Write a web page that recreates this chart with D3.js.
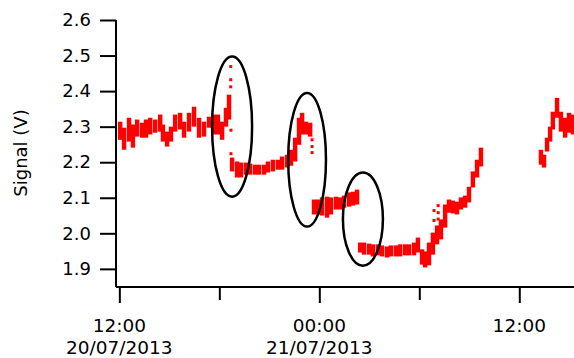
<!DOCTYPE html>
<html><head><meta charset="utf-8">
<script src="https://cdn.jsdelivr.net/npm/d3@7"></script>
<style>body{margin:0;background:#fff}svg{display:block}</style>
</head><body><svg id="c" width="574" height="358"></svg>
<script>
// minutes after 20/07/2013 12:00
const minutes = [3,17,35,49,64,82,96,111,129,147,157,172,186,201,219,233,251,269,287,305,323,341,355,370,384,395,
  406,424,438,456,471,489,503,521,535,553,571,586,604,618,633,647,658,672,687,
  701,715,730,748,762,780,795,809,827,841,856,
  867,881,899,913,931,946,964,978,996,1011,1029,1043,1061,1075,1090,1101,1115,1129,1144,1158,1173,1187,1201,1216,1230,1245,1259,1273,1288,1302,
  1518,1529,1540,1551,1561,1576,1590,1605,1619,1633,1648];
const hiValues = [2.314,2.297,2.325,2.306,2.320,2.311,2.320,2.325,2.320,2.334,2.306,2.286,2.300,2.334,2.339,2.314,2.339,2.356,2.325,2.314,2.328,2.334,2.334,2.314,2.353,2.390,
  2.213,2.202,2.199,2.199,2.196,2.193,2.193,2.193,2.202,2.207,2.207,2.216,2.221,2.235,2.269,2.325,2.339,2.314,2.311,
  2.095,2.095,2.101,2.103,2.101,2.103,2.101,2.106,2.115,2.117,2.123,
  1.974,1.974,1.971,1.969,1.969,1.966,1.963,1.966,1.966,1.969,1.969,1.969,1.974,1.988,1.955,1.949,1.974,2.002,2.022,2.039,2.081,2.095,2.092,2.089,2.101,2.106,2.131,2.174,2.207,2.241,
  2.235,2.221,2.269,2.300,2.342,2.381,2.342,2.325,2.339,2.334,2.328];
const loValues = [2.263,2.235,2.258,2.241,2.272,2.269,2.269,2.278,2.283,2.286,2.258,2.244,2.258,2.286,2.292,2.269,2.286,2.300,2.269,2.272,2.297,2.278,2.278,2.263,2.300,2.320,
  2.174,2.157,2.157,2.165,2.165,2.165,2.165,2.165,2.171,2.174,2.179,2.179,2.185,2.190,2.202,2.249,2.278,2.278,2.272,
  2.053,2.053,2.050,2.044,2.053,2.067,2.067,2.072,2.075,2.078,2.081,
  1.946,1.940,1.940,1.935,1.938,1.935,1.932,1.935,1.935,1.935,1.938,1.938,1.938,1.946,1.912,1.904,1.910,1.940,1.969,1.983,2.016,2.058,2.056,2.053,2.067,2.072,2.087,2.129,2.157,2.188,
  2.193,2.185,2.230,2.258,2.292,2.325,2.286,2.269,2.283,2.278,2.283];
const outlierMinutes = [401,401,401,402,402,694,694,694,1133,1148,1148,1133,1148];
const outlierValues = [2.469,2.432,2.412,2.290,2.224,2.263,2.244,2.227,2.064,2.078,2.058,2.036,2.040];
const yTicks = [1.9,2.0,2.1,2.2,2.3,2.4,2.5,2.6];
const majorTickMinutes = [0,720,1440];
const minorTickMinutes = [360,1080];
const tickTimeLabels = ["12:00","00:00","12:00"];
const tickDateLabels = ["20/07/2013","21/07/2013",""];
const yLabel = "Signal (V)";
// annotation ellipses: centre (minutes, value), half-width (minutes), half-height (value)
const ellipseMinutes = [406,676,877];
const ellipseValues = [2.300,2.207,2.040];
const ellipseHalfMinutes = [72,68,72];
const ellipseHalfValues = [0.197,0.188,0.131];

const start = new Date(2013,6,20,12,0);
const T = m => new Date(start.getTime() + m*60000);
const svg = d3.select("#c");
const x = d3.scaleTime().domain([T(-12), T(1637)]).range([116, 574]);
const y = d3.scaleLinear().domain([1.849, 2.6]).range([287, 20]);
const font = "DejaVu Sans";

svg.append("clipPath").attr("id","clip").append("rect").attr("x",116).attr("y",0).attr("width",458).attr("height",287);
const g = svg.append("g").attr("clip-path","url(#clip)");
const band = minutes.map((m,i)=>({m, hi:hiValues[i], lo:loValues[i]}));
g.selectAll("rect.b").data(band).join("rect").attr("class","b")
  .attr("x", d=>x(T(d.m-8))).attr("width", d=>x(T(d.m+8))-x(T(d.m-8)))
  .attr("y", d=>y(d.hi)).attr("height", d=>y(d.lo)-y(d.hi)).attr("fill","#ff0000");
const outs = outlierMinutes.map((m,i)=>({m, v:outlierValues[i]}));
g.selectAll("rect.o").data(outs).join("rect").attr("class","o")
  .attr("x", d=>x(T(d.m))-1.5).attr("y", d=>y(d.v)-1.5).attr("width",3).attr("height",3).attr("fill","#ff0000");

const ells = ellipseMinutes.map((m,i)=>({m, v:ellipseValues[i], hm:ellipseHalfMinutes[i], hv:ellipseHalfValues[i]}));
svg.selectAll("ellipse").data(ells).join("ellipse")
  .attr("cx", d=>x(T(d.m))).attr("cy", d=>y(d.v))
  .attr("rx", d=>x(T(d.m+d.hm))-x(T(d.m))).attr("ry", d=>y(d.v-d.hv)-y(d.v))
  .attr("fill","none").attr("stroke","#000").attr("stroke-width",2.5);

// y axis
const yAxis = svg.append("g").attr("transform","translate(116,0)")
  .call(d3.axisLeft(y).tickValues(yTicks).tickFormat(d3.format(".1f")).tickSize(16).tickPadding(9));
yAxis.select(".domain").attr("d","M0,20V287").attr("stroke","#000").attr("stroke-width",2);
yAxis.selectAll(".tick line").attr("stroke","#000").attr("stroke-width",2);
yAxis.selectAll("text").attr("font-family",font).attr("font-size",18).attr("fill","#000");

// x axis
const xAxis = svg.append("g").attr("transform","translate(0,287)")
  .call(d3.axisBottom(x).tickValues(majorTickMinutes.map(T)).tickFormat("").tickSize(16));
xAxis.select(".domain").attr("d","M116,0H574").attr("stroke","#000").attr("stroke-width",2);
xAxis.selectAll(".tick line").attr("stroke","#000").attr("stroke-width",2);
const xMinor = svg.append("g").attr("transform","translate(0,287)")
  .call(d3.axisBottom(x).tickValues(minorTickMinutes.map(T)).tickFormat("").tickSize(13));
xMinor.select(".domain").remove();
xMinor.selectAll(".tick line").attr("stroke","#000").attr("stroke-width",2);

const labs = majorTickMinutes.map((m,i)=>({m, t:tickTimeLabels[i], d:tickDateLabels[i]}));
svg.selectAll("text.xt").data(labs).join("text").attr("class","xt")
  .attr("x", d=>x(T(d.m))).attr("y",332).attr("text-anchor","middle")
  .attr("font-family",font).attr("font-size",18.5).text(d=>d.t);
svg.selectAll("text.xd").data(labs).join("text").attr("class","xd")
  .attr("x", d=>x(T(d.m))).attr("y",354).attr("text-anchor","middle")
  .attr("font-family",font).attr("font-size",18.5).text(d=>d.d);

svg.append("text").attr("transform","translate(27,153) rotate(-90)").attr("text-anchor","middle")
  .attr("font-family",font).attr("font-size",18).text(yLabel);
</script></body></html>
